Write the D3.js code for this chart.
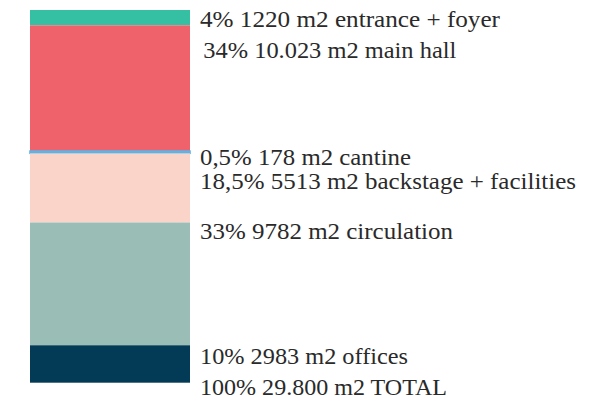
<!DOCTYPE html>
<html>
<head>
<meta charset="utf-8">
<script src="https://cdn.jsdelivr.net/npm/d3@7"></script>
<style>
  html, body { margin: 0; padding: 0; background: #ffffff; }
  svg { display: block; }
</style>
</head>
<body>
<svg id="chart" width="598" height="410"></svg>
<script>
// Floor-area programme, stacked from top to bottom
const categories = ["entrance + foyer", "main hall", "cantine", "backstage + facilities", "circulation", "offices"];
const shares = ["4%", "34%", "0,5%", "18,5%", "33%", "10%"];
const areas = [1220, 10023, 178, 5513, 9782, 2983];
const areaLabels = ["1220", "10.023", "178", "5513", "9782", "2983"];
const totalShare = "100%";
const totalAreaLabel = "29.800";
const colors = ["#35bfa3", "#ef626b", "#5ab5e6", "#fbd4c9", "#9abdb6", "#033a55"];

const svg = d3.select("#chart");

// stack offsets
let acc = 0;
const rows = categories.map((c, i) => {
  const r = { name: c, share: shares[i], area: areas[i], areaLabel: areaLabels[i], y0: acc, y1: acc + areas[i], color: colors[i] };
  acc += areas[i];
  return r;
});

const y = d3.scaleLinear().domain([0, d3.sum(areas)]).range([10, 382.7]);
const x = d3.scaleBand().domain(["programme"]).range([30, 190]).padding(0);

svg.append("g").selectAll("rect")
  .data(rows)
  .join("rect")
  .attr("x", x("programme"))
  .attr("width", x.bandwidth())
  .attr("y", d => y(d.y0))
  .attr("height", d => Math.max(0, y(d.y1) - y(d.y0)))
  .attr("fill", d => d.color)
  .attr("stroke", d => d.name === "cantine" ? d.color : "none")
  .attr("stroke-width", d => d.name === "cantine" ? 1.6 : 0);

// label placement: baseline measured from each segment's top, with a per-label nudge and set width
const labelLayout = {
  "entrance + foyer":       { dx: 0,   dy: 16.5, len: 300 },
  "main hall":              { dx: 3.3, dy: 32.3, len: 253 },
  "cantine":                { dx: 0,   dy: 14.2, len: 211 },
  "backstage + facilities": { dx: 0,   dy: 35.8, len: 376 },
  "circulation":            { dx: 0,   dy: 16.8, len: 253 },
  "offices":                { dx: 0,   dy: 18.6, len: 208 }
};

const labelX = x("programme") + x.bandwidth() + 10;
const labels = svg.append("g");

labels.selectAll("text.seg")
  .data(rows)
  .join("text")
  .attr("class", "seg")
  .attr("font-family", "Liberation Serif")
  .attr("font-size", 24)
  .attr("fill", "#2a2a2a")
  .attr("x", d => labelX + labelLayout[d.name].dx)
  .attr("y", d => y(d.y0) + labelLayout[d.name].dy)
  .attr("textLength", d => labelLayout[d.name].len)
  .attr("lengthAdjust", "spacingAndGlyphs")
  .text(d => `${d.share} ${d.areaLabel} m2 ${d.name}`);

labels.append("text")
  .attr("font-family", "Liberation Serif")
  .attr("font-size", 24)
  .attr("fill", "#2a2a2a")
  .attr("x", labelX)
  .attr("y", y(d3.sum(areas)) + 12.3)
  .attr("textLength", 247)
  .attr("lengthAdjust", "spacingAndGlyphs")
  .text(`${totalShare} ${totalAreaLabel} m2 TOTAL`);
</script>
</body>
</html>
